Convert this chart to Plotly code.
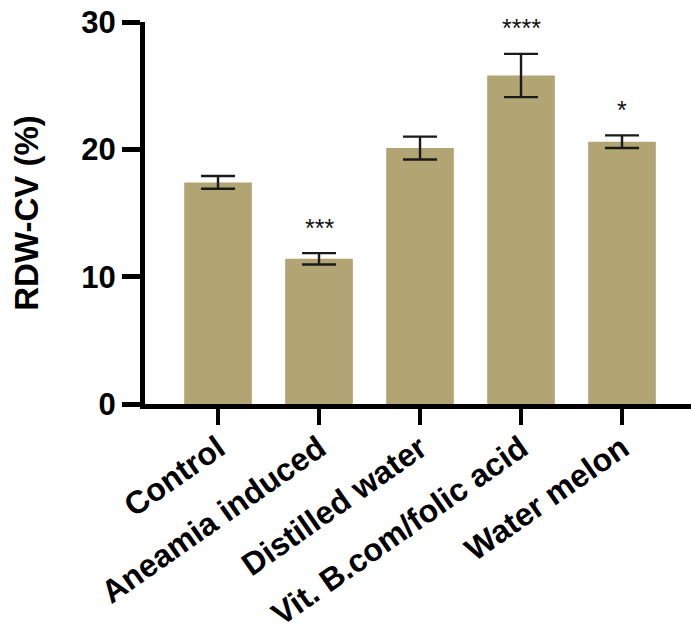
import plotly.graph_objects as go

categories = ["Control", "Aneamia induced", "Distilled water", "Vit. B.com/folic acid", "Water melon"]
means = [17.4, 11.4, 20.1, 25.8, 20.6]
sem = [0.5, 0.45, 0.9, 1.7, 0.5]
stars = ["", "***", "", "****", "*"]
y_ticks = [0, 10, 20, 30]

FONT = "Liberation Sans, Arial, sans-serif"
BAR = "#b1a574"

fig = go.Figure()
fig.add_trace(go.Bar(
    x=categories, y=means, width=0.67,
    marker=dict(color=BAR, line=dict(width=0)),
    error_y=dict(type="data", array=sem, visible=True, color="#1a1a1a", thickness=2.4, width=17),
    showlegend=False,
))

for c, m, s, st in zip(categories, means, sem, stars):
    if st:
        fig.add_annotation(x=c, y=m + s + 2.0, text=st, showarrow=False,
                           font=dict(family=FONT, size=25, color="#111"),
                           xanchor="center", yanchor="middle")

fig.update_layout(
    width=691, height=640,
    margin=dict(l=145, r=0, t=22, b=236),
    paper_bgcolor="white", plot_bgcolor="white",
    bargap=0.33,
)
fig.update_xaxes(
    type="category", range=[-0.723, 4.683],
    showline=True, linewidth=5, linecolor="black",
    ticks="outside", ticklen=16, tickwidth=4, tickcolor="black",
    tickangle=-35, ticklabelstandoff=-8,
    tickfont=dict(family=FONT, size=32, color="black", weight="bold"),
    showgrid=False, zeroline=False,
)
fig.update_yaxes(
    range=[0, 30], tickvals=y_ticks,
    showline=True, linewidth=5, linecolor="black",
    ticks="outside", ticklen=18, tickwidth=5, tickcolor="black",
    tickfont=dict(family=FONT, size=31, color="black", weight="bold"),
    title=dict(text="RDW-CV (%)", font=dict(family=FONT, size=33, color="black", weight="bold"), standoff=34),
    showgrid=False, zeroline=False,
)

fig.write_html("out.html")
